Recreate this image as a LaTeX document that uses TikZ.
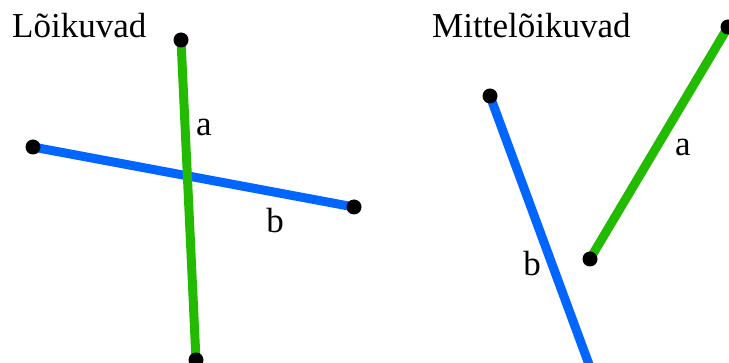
\documentclass[tikz,border=0pt]{standalone}
\usepackage{fontspec}
\setmainfont{Liberation Serif}
\usetikzlibrary{positioning}
\definecolor{segA}{RGB}{34,187,0}
\definecolor{segB}{RGB}{0,102,255}
\tikzset{
  every node/.style={font=\fontsize{35}{42}\selectfont}, % one size for all texts
  endpoint/.style={circle, fill=black, inner sep=0pt, minimum size=15pt}, % the dots
  lineA/.style={segA, line width=9pt}, % segment a
  lineB/.style={segB, line width=9pt}, % segment b
}

\begin{document}
\begin{tikzpicture}[x=1pt,y=-1pt]
    \useasboundingbox (0,0) rectangle (729,363);
    \clip (0,0) rectangle (729,363);

    % left: the segments cross
    \node[anchor=base west, inner sep=0pt] (titleL) at (12,38) {Lõikuvad};
    \coordinate (a1) at (181,40);
    \coordinate (a2) at (196,360);
    \coordinate (b1) at (33,147);
    \coordinate (b2) at (354,207);
    \draw[lineB] (b1) -- (b2);
    \draw[lineA] (a1) -- (a2);
    \foreach \p in {a1,a2,b1,b2}
      \node[endpoint] at (\p) {};
    \node (labA) at (204,127) {a};
    \node (labB) at (275,221) {b};

    % right: the segments do not cross
    \node[anchor=base west, inner sep=0pt] (titleR) at (432,38) {Mittelõikuvad};
    \coordinate (c1) at (728,27);
    \coordinate (c2) at (590,259);
    \coordinate (d1) at (490,96);
    \coordinate (d2) at (594,378);
    \draw[lineB] (d1) -- (d2);
    \draw[lineA] (c1) -- (c2);
    \foreach \p in {c1,c2,d1}
      \node[endpoint] at (\p) {};
    \node (labC) at (683,147) {a};
    \node (labD) at (532,264) {b};
  \end{tikzpicture}
\end{document}
